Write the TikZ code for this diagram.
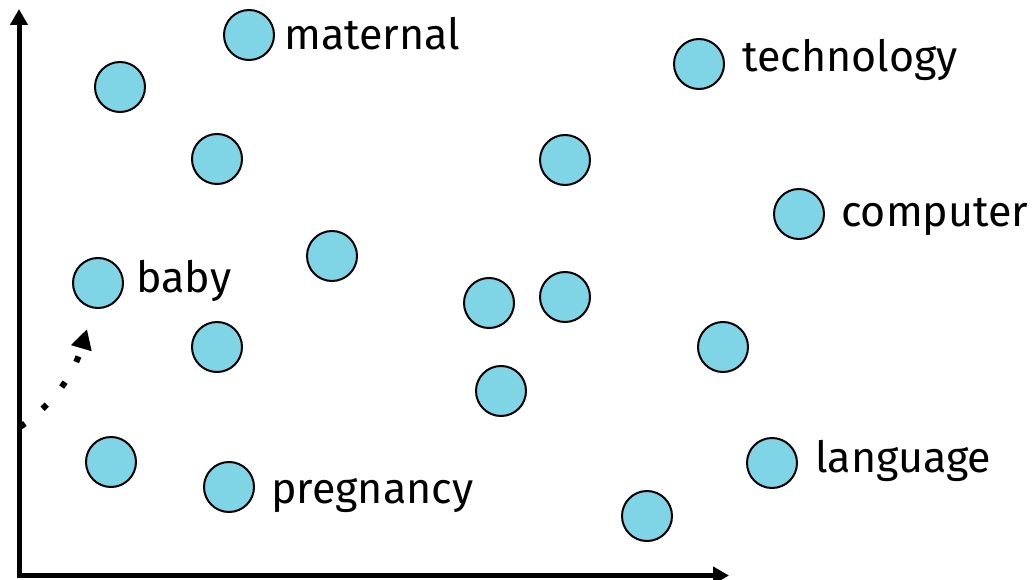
\documentclass[tikz,border=0pt]{standalone}
\usepackage{fontspec}
\setmainfont{Fira Sans}
\usetikzlibrary{arrows.meta}
\definecolor{dotfill}{HTML}{7FD4E6}
\begin{document}
\begin{tikzpicture}[x=1pt,y=-1pt,
  pt/.style={circle,draw=black,line width=2pt,fill=dotfill,minimum size=50pt,inner sep=0pt},
  lbl/.style={anchor=base west,inner sep=0pt,font=\fontsize{43}{50}\selectfont},
  axis/.style={line width=5pt,-{Triangle[length=16pt,width=17pt]}}]
\useasboundingbox (0,0) rectangle (1033,580);
% points
\node[pt] (c1) at (249,35) {};
\node[pt] (c2) at (120,87) {};
\node[pt] (c3) at (217,159) {};
\node[pt] (c4) at (565,160) {};
\node[pt] (c5) at (699,64) {};
\node[pt] (c6) at (799,214) {};
\node[pt] (c7) at (98,283) {};
\node[pt] (c8) at (332,256) {};
\node[pt] (c9) at (489,303) {};
\node[pt] (c10) at (565,297) {};
\node[pt] (c11) at (217,347) {};
\node[pt] (c12) at (723,347) {};
\node[pt] (c13) at (501,391) {};
\node[pt] (c14) at (111,462) {};
\node[pt] (c15) at (229,487) {};
\node[pt] (c16) at (772,463) {};
\node[pt] (c17) at (647,516) {};
% labels
\node[lbl] (lmat) at ([xshift=35pt,yshift=-15pt]c1.center) {maternal};
\node[lbl] (ltec) at ([xshift=43pt,yshift=-8pt]c5.center) {technology};
\node[lbl] (lcom) at ([xshift=42pt,yshift=-12pt]c6.center) {computer};
\node[lbl] (lbab) at ([xshift=38pt,yshift=-9pt]c7.center) {baby};
\node[lbl] (lpre) at ([xshift=42pt,yshift=-16pt]c15.center) {pregnancy};
\node[lbl] (llan) at ([xshift=43pt,yshift=-9pt]c16.center) {language};
% axes
\coordinate (o) at (19,575.5);
\coordinate (ytop) at (19,9);
\coordinate (xend) at (729,575.5);
\draw[axis] ([yshift=-2.5pt]o) -- (ytop);
\draw[axis] ([xshift=-2.5pt]o) -- (xend);
% dotted arrow
\coordinate (ds) at (20,427);
\coordinate (de) at (87,329);
\draw[line width=6pt,dash pattern=on 6pt off 23pt,-{Triangle[length=20pt,width=20pt]}]
  (ds) .. controls (48,408) and (72,380) .. (de);
\end{tikzpicture}
\end{document}
